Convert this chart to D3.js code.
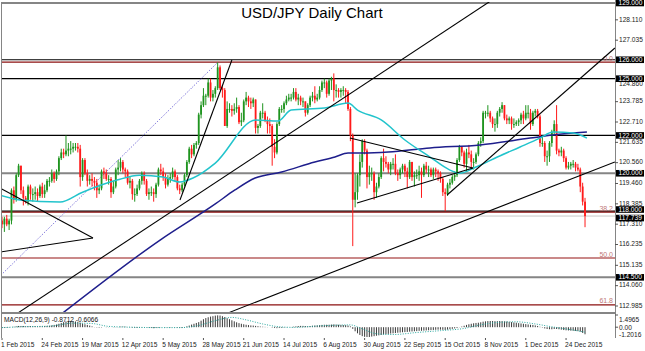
<!DOCTYPE html>
<html>
<head>
<meta charset="utf-8">
<script src="https://cdn.jsdelivr.net/npm/d3@7"></script>
<style>
body { margin: 0; background: #fff; }
svg { display: block; }
text { font-family: "Liberation Sans", Arial, sans-serif; }
</style>
</head>
<body>
<svg id="chart" width="645" height="351"></svg>
<script>
// daily candles, one row of 17 bars per date label
var opens = [
  117.5,117.3,117.6,117.3,117.5,119.1,118.6,119.9,120.4,119.1,118.7,118.5,119.3,118.9,118.9,119.0,118.8,
  119.3,118.9,119.1,119.6,119.6,120.0,119.7,120.1,120.8,121.1,121.0,121.2,121.3,121.3,121.4,121.4,121.3,
  119.8,120.7,120.0,119.6,119.7,119.6,119.5,119.1,119.2,120.1,120.0,119.7,119.7,119.0,119.3,120.2,120.3,
  120.6,120.2,120.1,119.5,119.6,118.9,118.9,119.2,119.6,120.0,119.6,118.9,119.0,119.0,118.9,119.4,120.2,
  120.1,119.8,119.4,119.7,119.8,120.1,119.8,119.2,119.1,119.4,119.9,120.6,121.3,121.0,121.5,121.6,123.1,
  123.6,124.1,124.1,124.8,124.0,124.2,124.5,125.6,124.5,124.4,122.5,123.4,123.4,123.3,123.4,123.5,122.7,
  122.8,123.8,124.0,123.8,123.7,123.9,122.4,122.5,123.2,123.2,122.8,122.6,122.5,121.4,121.1,122.6,123.4,
  123.4,123.7,123.9,124.0,124.0,124.3,123.9,124.0,123.8,123.8,123.2,123.6,124.0,124.1,123.9,124.0,124.4,
  124.8,124.8,124.2,124.9,125.0,124.4,124.4,124.3,124.4,124.4,124.3,123.4,122.0,118.6,119.0,119.9,120.6,
  121.7,121.2,119.8,120.0,120.0,119.0,119.3,119.8,120.8,120.6,120.5,120.2,120.5,120.5,120.0,119.9,120.2,
  120.4,120.1,119.8,120.6,119.8,119.9,119.9,120.1,119.9,120.4,120.2,120.2,119.9,120.2,120.1,120.0,119.7,
  119.0,118.9,119.4,119.5,119.8,119.9,120.7,121.4,121.1,120.5,121.1,121.0,120.6,120.6,121.0,121.6,121.7,
  123.2,123.2,123.2,122.9,122.6,122.6,123.2,123.4,123.6,122.9,122.8,122.9,122.6,122.6,122.7,122.8,123.1,
  122.9,123.2,123.2,122.6,123.2,123.3,123.0,121.6,121.6,120.9,120.9,121.6,122.2,122.6,121.2,121.1,121.2,
  120.8,120.3,120.4,120.5,120.5,120.3,120.2,119.3,118.5
];
var highs = [
  117.7,117.7,117.8,117.6,119.2,119.3,120.0,120.5,120.4,119.3,118.8,119.4,119.4,119.2,119.3,119.2,119.4,
  119.5,119.4,119.7,119.8,120.2,120.1,120.2,120.9,121.3,121.3,122.0,121.6,121.7,121.6,121.6,121.6,121.5,
  120.8,120.8,120.2,119.9,120.0,119.8,119.7,119.4,120.2,120.3,120.2,119.9,119.8,119.6,120.3,120.7,120.8,
  120.7,120.3,120.2,119.8,119.7,119.2,119.4,119.7,120.1,120.1,119.7,119.2,119.3,119.2,119.5,120.3,120.5,
  120.3,120.0,119.9,120.0,120.3,120.2,119.9,119.4,119.5,120.0,120.7,121.4,121.5,121.6,121.7,123.2,123.8,
  124.5,124.2,125.0,125.0,124.4,124.6,125.86,125.7,124.6,124.5,123.8,123.7,123.6,123.7,124.0,123.6,123.2,
  123.9,124.3,124.1,124.0,124.0,123.9,122.6,123.3,123.7,123.3,123.0,122.9,122.6,121.8,122.7,123.5,123.6,
  123.8,124.1,124.2,124.2,124.5,124.5,124.2,124.1,124.0,123.8,123.7,124.1,124.3,124.6,124.2,124.6,124.9,
  125.0,124.9,125.0,125.1,125.28,124.7,124.5,124.5,124.6,124.5,124.4,123.5,122.1,120.0,120.0,121.0,121.8,
  121.8,121.3,120.4,120.3,120.1,119.5,120.0,120.9,121.3,120.9,120.6,120.6,120.8,121.0,120.2,120.3,120.5,
  120.5,120.3,120.7,120.6,120.1,120.2,120.4,120.3,120.5,120.6,120.4,120.3,120.3,120.3,120.2,120.1,119.8,
  119.2,119.5,119.7,119.9,120.1,120.8,121.5,121.4,121.2,121.3,121.5,121.2,120.8,121.1,121.7,121.9,123.3,
  123.3,123.6,123.3,123.0,122.9,123.3,123.5,123.76,123.6,123.1,123.0,123.0,122.9,122.8,122.9,123.2,123.3,
  123.6,123.6,123.4,123.3,123.4,123.4,123.1,122.0,121.7,121.2,121.7,122.3,122.8,123.6,121.3,121.4,121.3,
  120.9,120.6,120.6,120.7,120.6,120.5,120.3,119.5,118.7
];
var lows = [
  117.1,116.9,117.2,117.0,117.3,118.4,118.5,119.8,118.9,118.3,118.4,118.3,118.6,118.5,118.6,118.5,118.7,
  118.7,118.7,119.0,119.3,119.5,119.5,119.6,119.9,120.7,120.8,120.9,120.9,121.0,121.1,121.2,121.1,119.3,
  119.6,119.9,119.3,119.4,119.3,119.1,118.7,118.9,119.1,119.7,119.6,119.4,118.7,118.9,119.2,119.9,120.1,
  120.0,119.8,119.4,119.2,118.6,118.5,118.8,119.1,119.4,119.4,118.8,118.6,118.8,118.5,118.7,119.3,119.9,
  119.6,119.2,119.3,119.5,119.7,119.6,119.1,118.9,119.0,119.3,119.8,120.5,120.8,120.9,121.3,121.5,122.9,
  123.5,123.6,124.0,123.8,123.8,124.0,124.4,124.4,124.0,122.5,122.4,123.2,123.0,123.1,123.2,122.6,122.5,
  122.7,123.6,123.5,123.4,123.5,122.1,122.1,122.4,122.9,122.7,122.1,122.1,120.4,120.8,121.0,122.5,123.2,
  123.2,123.6,123.8,123.8,123.9,123.8,123.6,123.6,123.5,123.0,123.1,123.5,123.8,123.7,123.8,123.9,124.3,
  124.5,124.0,124.1,124.4,123.8,124.0,124.0,124.0,124.1,123.7,123.3,121.7,116.15,118.2,118.6,119.3,120.3,
  121.0,119.2,119.4,119.6,118.6,118.7,119.2,119.7,120.1,120.3,120.0,119.9,120.2,119.9,119.6,119.7,120.0,
  119.8,119.2,119.7,119.6,119.3,119.7,119.6,118.7,119.8,120.0,119.8,119.8,119.7,119.8,119.6,119.5,118.8,
  118.0,118.8,119.2,119.4,119.6,119.8,120.6,120.9,120.3,120.1,120.8,120.3,120.2,120.5,120.9,121.4,121.6,
  122.9,123.0,122.7,122.4,122.2,122.4,123.0,123.2,122.8,122.6,122.6,122.3,122.4,122.5,122.5,122.6,122.6,
  122.8,122.9,122.3,122.5,123.0,122.9,121.4,121.4,120.6,120.4,120.6,121.4,122.0,121.0,120.9,120.9,120.6,
  120.2,120.2,120.2,120.3,120.1,120.1,119.0,118.3,117.15
];
var closes = [
  117.3,117.6,117.3,117.5,119.1,118.6,119.9,120.4,119.1,118.7,118.5,119.3,118.9,118.9,119.0,118.8,119.3,
  118.9,119.1,119.6,119.6,120.0,119.7,120.1,120.8,121.1,121.0,121.2,121.3,121.3,121.4,121.4,121.3,119.8,
  120.7,120.0,119.6,119.7,119.6,119.5,119.1,119.2,120.1,120.0,119.7,119.7,119.0,119.3,120.2,120.3,120.6,
  120.2,120.1,119.5,119.6,118.9,118.9,119.2,119.6,120.0,119.6,118.9,119.0,119.0,118.9,119.4,120.2,120.1,
  119.8,119.4,119.7,119.8,120.1,119.8,119.2,119.1,119.4,119.9,120.6,121.3,121.0,121.5,121.6,123.1,123.6,
  124.1,124.1,124.8,124.0,124.2,124.5,125.6,124.5,124.4,122.5,123.4,123.4,123.3,123.4,123.5,122.7,122.8,
  123.8,124.0,123.8,123.7,123.9,122.4,122.5,123.2,123.2,122.8,122.6,122.5,121.4,121.1,122.6,123.4,123.4,
  123.7,123.9,124.0,124.0,124.3,123.9,124.0,123.8,123.8,123.2,123.6,124.0,124.1,123.9,124.0,124.4,124.8,
  124.8,124.2,124.9,125.0,124.4,124.4,124.3,124.4,124.4,124.3,123.4,122.0,118.6,119.0,119.9,120.6,121.7,
  121.2,119.8,120.0,120.0,119.0,119.3,119.8,120.8,120.6,120.5,120.2,120.5,120.5,120.0,119.9,120.2,120.4,
  120.1,119.8,120.6,119.8,119.9,119.9,120.1,119.9,120.4,120.2,120.2,119.9,120.2,120.1,120.0,119.7,119.0,
  118.9,119.4,119.5,119.8,119.9,120.7,121.4,121.1,120.5,121.1,121.0,120.6,120.6,121.0,121.6,121.7,123.2,
  123.2,123.2,122.9,122.6,122.6,123.2,123.4,123.6,122.9,122.8,122.9,122.6,122.6,122.7,122.8,123.1,122.9,
  123.2,123.2,122.6,123.2,123.3,123.0,121.6,121.6,120.9,120.9,121.6,122.2,122.6,121.2,121.1,121.2,120.8,
  120.3,120.4,120.5,120.5,120.3,120.2,119.3,118.5,117.74
];

// MACD(12,26,9) main line, drawn as histogram
var macdMain = [
  -0.1,-0.1,-0.05,-0.05,0.0,0.05,0.1,0.15,0.15,0.15,0.12,0.12,0.14,0.13,0.13,0.12,0.12,
  0.13,0.14,0.16,0.18,0.22,0.28,0.33,0.42,0.52,0.62,0.7,0.74,0.76,0.74,0.7,0.66,0.55,
  0.45,0.36,0.28,0.2,0.1,0.02,-0.04,-0.06,-0.04,0.0,0.02,0.02,0.0,-0.02,-0.02,0.02,0.06,
  0.08,0.06,0.02,-0.02,-0.06,-0.1,-0.1,-0.08,-0.04,0.0,-0.02,-0.06,-0.1,-0.12,-0.1,-0.06,-0.02,
  0.0,-0.02,-0.04,-0.04,-0.02,-0.02,-0.06,-0.1,-0.1,-0.08,0.1,0.2,0.32,0.42,0.52,0.62,0.8,
  0.98,1.12,1.22,1.3,1.35,1.42,1.45,1.43,1.35,1.25,1.1,0.98,0.85,0.72,0.6,0.5,0.42,
  0.36,0.3,0.26,0.22,0.2,0.16,0.12,0.08,0.06,0.04,0.02,0.0,-0.05,-0.1,-0.12,-0.1,-0.08,
  -0.05,-0.02,0.0,0.02,0.06,0.1,0.14,0.16,0.16,0.14,0.12,0.14,0.18,0.2,0.22,0.25,0.28,
  0.3,0.3,0.3,0.32,0.34,0.32,0.3,0.28,0.26,0.25,0.2,0.1,-0.2,-0.5,-0.75,-0.95,-1.1,
  -1.18,-1.2,-1.2,-1.15,-1.1,-1.05,-1.0,-0.95,-0.9,-0.86,-0.82,-0.78,-0.75,-0.72,-0.68,-0.65,-0.62,
  -0.6,-0.58,-0.55,-0.52,-0.5,-0.48,-0.45,-0.44,-0.42,-0.4,-0.38,-0.36,-0.34,-0.32,-0.3,-0.3,-0.32,
  -0.34,-0.3,-0.25,-0.2,-0.15,-0.1,-0.02,0.08,0.18,0.28,0.36,0.42,0.48,0.52,0.55,0.6,0.68,
  0.72,0.75,0.76,0.76,0.74,0.74,0.76,0.75,0.72,0.7,0.66,0.62,0.58,0.55,0.5,0.46,0.42,
  0.38,0.34,0.3,0.28,0.22,0.15,0.05,-0.05,-0.15,-0.22,-0.25,-0.25,-0.22,-0.22,-0.25,-0.3,-0.35,
  -0.38,-0.4,-0.42,-0.44,-0.45,-0.48,-0.55,-0.7,-0.87
];
// signal line read at a few bars
var signalBars = [0,8,20,30,38,45,55,65,75,82,90,97,103,110,117,123,135,147,152,158,165,175,185,195,202,210,217,225,233,240,246];
var signalVals = [-0.05,0.05,0.13,0.5,0.45,0.1,0.0,-0.05,-0.05,0.15,0.8,1.2,0.9,0.4,0.05,-0.02,0.18,0.28,-0.2,-0.8,-0.9,-0.65,-0.42,-0.15,0.3,0.6,0.66,0.4,0.0,-0.3,-0.61];

// moving averages
var maFastBars = [-1,7.6,24.5,34,48.5,58,68,75,80.6,90,107,116.5,122,136,146,150,160,170,180.6,189,193,200,209,218.6,227,232.5,241,246.8];
var maFastVals = [118.85,118.59,118.48,119.0,119.64,119.9,119.8,119.54,119.75,120.54,122.82,122.76,123.34,123.45,123.71,123.34,122.82,121.76,120.86,120.17,120.0,120.33,120.86,121.39,121.86,122.18,122.13,121.86];
var maSlowBars = [25.7,66.7,90,98.3,106.8,118,132,140.5,146,152,163,180.6,201.7,222.8,232.5,246.8];
var maSlowVals = [112.62,116.47,118.38,119.12,119.75,120.07,120.6,120.86,121.07,121.07,121.12,121.34,121.5,121.86,122.02,122.18];

// hand-drawn trend lines: start/end bar and price
var trendStartBar   = [75.1, 6.75, 95.4, 187.8, 146.8, 149.8, -0.84, -0.84];
var trendStartPrice = [118.59, 112.62, 112.62, 118.85, 121.86, 118.43, 119.22, 115.84];
var trendEndBar     = [97.0, 206.8, 258.6, 258.6, 198.7, 198.7, 38.4, 38.4];
var trendEndPrice   = [125.99, 129.16, 120.6, 126.62, 120.28, 120.28, 116.58, 116.58];

// fibonacci retracement (Oct 2014 low to Jun 2015 high)
var fibBars = [-77, 91];
var fibPrices = [105.2, 125.86];
var fibLabels = ["0.0", "38.2", "50.0", "61.8"];
var fibLevels = [125.88, 117.95, 115.52, 113.04];

var levelPrices = [129, 126, 125, 122, 120, 118, 114.5];
var levelKinds  = ["grey", "black", "black", "black", "grey", "black", "grey"];
var bidPrice = 117.739;

var tickPrices = ["128.110","127.035","124.860","123.785","122.710","121.635","120.560","119.460","118.385","117.310","116.235","115.135","114.060","112.985"];
var boxPrices = ["129.000","126.000","125.000","122.000","120.000","118.000","117.739","114.500"];
var macdTicks = ["1.4965", "0.00", "-1.2016"];
var dateBars = [0,17,34,51,68,85,102,119,136,153,170,187,204,221,238];
var dateLabels = ["1 Feb 2015","24 Feb 2015","19 Mar 2015","12 Apr 2015","5 May 2015","28 May 2015","21 Jun 2015","14 Jul 2015","6 Aug 2015","30 Aug 2015","22 Sep 2015","15 Oct 2015","8 Nov 2015","1 Dec 2015","24 Dec 2015"];

var svg = d3.select("#chart");
var plotL = 2, plotR = 615, plotT = 2, priceB = 313, macdT = 315, macdB = 337;

var x = d3.scaleLinear().domain([0, 258.65]).range([2, 615]);
var y = d3.scaleLinear().domain([112.985, 129]).range([306, 3]);
var ym = d3.scaleLinear().domain([-1.2016, 1.4965]).range([macdB, macdT]);

var defs = svg.append("defs");
defs.append("clipPath").attr("id", "clipPrice").append("rect")
    .attr("x", plotL).attr("y", plotT).attr("width", plotR - plotL).attr("height", priceB - plotT);
defs.append("clipPath").attr("id", "clipMacd").append("rect")
    .attr("x", plotL).attr("y", priceB + 1).attr("width", plotR - plotL).attr("height", macdB - priceB + 1);

var gPrice = svg.append("g").attr("clip-path", "url(#clipPrice)");

// horizontal levels
gPrice.selectAll("line.level").data(levelPrices).join("line")
    .attr("x1", plotL).attr("x2", plotR)
    .attr("y1", d => y(d)).attr("y2", d => y(d))
    .attr("stroke", (d, i) => levelKinds[i] == "grey" ? "#858585" : "#000")
    .attr("stroke-width", (d, i) => levelKinds[i] == "grey" ? 2 : 1.2);

gPrice.append("line")
    .attr("x1", plotL).attr("x2", plotR)
    .attr("y1", y(bidPrice)).attr("y2", y(bidPrice))
    .attr("stroke", "#c8c8c8").attr("stroke-width", 1);

// fib levels
gPrice.selectAll("line.fib").data(fibLevels).join("line")
    .attr("x1", plotL).attr("x2", plotR)
    .attr("y1", d => y(d)).attr("y2", d => y(d))
    .attr("stroke", (d, i) => i == 2 ? "#b86262" : "#8b1010")
    .attr("stroke-width", (d, i) => i == 2 ? 1.6 : 1.3);

gPrice.selectAll("text.fib").data(fibLevels).join("text")
    .attr("x", 613).attr("y", d => y(d) - 1.5)
    .attr("text-anchor", "end")
    .attr("font-size", 7).attr("fill", "#c07878")
    .text((d, i) => fibLabels[i]);

gPrice.append("line")
    .attr("x1", x(fibBars[0])).attr("y1", y(fibPrices[0]))
    .attr("x2", x(fibBars[1])).attr("y2", y(fibPrices[1]))
    .attr("stroke", "#5a4fd0").attr("stroke-width", 1)
    .attr("stroke-dasharray", "1,1.6");

// candles
var idx = d3.range(closes.length);
var upCol = "#1f941f", downCol = "#ff1a1a";
gPrice.selectAll("line.wick").data(idx).join("line")
    .attr("x1", i => x(i)).attr("x2", i => x(i))
    .attr("y1", i => y(highs[i])).attr("y2", i => y(lows[i]))
    .attr("stroke", i => closes[i] >= opens[i] ? upCol : downCol)
    .attr("stroke-width", 1);
gPrice.selectAll("rect.body").data(idx).join("rect")
    .attr("x", i => x(i) - 0.9).attr("width", 1.8)
    .attr("y", i => y(Math.max(opens[i], closes[i])))
    .attr("height", i => Math.max(1, Math.abs(y(opens[i]) - y(closes[i]))))
    .attr("fill", i => closes[i] >= opens[i] ? upCol : downCol);

// moving averages
var maLine = d3.line().curve(d3.curveMonotoneX);
gPrice.append("path")
    .attr("d", maLine(maSlowBars.map((b, i) => [x(b), y(maSlowVals[i])])))
    .attr("fill", "none").attr("stroke", "#1e1e8c").attr("stroke-width", 1.5);
gPrice.append("path")
    .attr("d", maLine(maFastBars.map((b, i) => [x(b), y(maFastVals[i])])))
    .attr("fill", "none").attr("stroke", "#22c4cc").attr("stroke-width", 1.5);

// trend lines
gPrice.selectAll("line.trend").data(trendStartBar).join("line")
    .attr("x1", d => x(d)).attr("y1", (d, i) => y(trendStartPrice[i]))
    .attr("x2", (d, i) => x(trendEndBar[i])).attr("y2", (d, i) => y(trendEndPrice[i]))
    .attr("stroke", "#000").attr("stroke-width", 1.1);

// MACD window
var gMacd = svg.append("g").attr("clip-path", "url(#clipMacd)");
gMacd.selectAll("line.hist").data(macdMain).join("line")
    .attr("x1", (d, i) => x(i)).attr("x2", (d, i) => x(i))
    .attr("y1", ym(0)).attr("y2", d => ym(d))
    .attr("stroke", "#3a3a3a").attr("stroke-width", 1);
gMacd.append("path")
    .attr("d", maLine(signalBars.map((b, i) => [x(b), ym(signalVals[i])])))
    .attr("fill", "none").attr("stroke", "#2aa8a0").attr("stroke-width", 1)
    .attr("stroke-dasharray", "1,1.5");

svg.append("text")
    .attr("x", 4).attr("y", 321.5)
    .attr("font-size", 6.6).attr("fill", "#111")
    .text("MACD(12,26,9) -0.8712 -0.6066");

// frame
svg.append("line").attr("x1", 1.5).attr("x2", 1.5).attr("y1", plotT).attr("y2", 338)
    .attr("stroke", "#858585").attr("stroke-width", 1);
svg.append("line").attr("x1", plotR + 0.5).attr("x2", plotR + 0.5).attr("y1", 0).attr("y2", 338)
    .attr("stroke", "#858585").attr("stroke-width", 1);
svg.append("line").attr("x1", plotL).attr("x2", plotR).attr("y1", priceB).attr("y2", priceB)
    .attr("stroke", "#858585").attr("stroke-width", 2);

// price axis; a few labels are nudged so they do not sit under a box
var labelNudge = {"124.860": 3.2, "118.000": -1.6, "117.739": 2};
var axis = svg.append("g");
axis.selectAll("line.tick").data(tickPrices).join("line")
    .attr("x1", plotR).attr("x2", plotR + 3)
    .attr("y1", d => y(+d)).attr("y2", d => y(+d))
    .attr("stroke", "#555");
axis.selectAll("text.tick").data(tickPrices).join("text")
    .attr("x", 619).attr("y", d => y(+d) + (labelNudge[d] || 0))
    .attr("dominant-baseline", "middle")
    .attr("font-size", 6.6).attr("fill", "#222")
    .text(d => d);

var boxes = axis.selectAll("g.box").data(boxPrices).join("g")
    .attr("transform", d => "translate(616," + (y(+d) + (labelNudge[d] || 0)) + ")");
boxes.append("rect").attr("x", 0).attr("y", -3.3).attr("width", 28).attr("height", 6.6).attr("fill", "#000");
boxes.append("text").attr("x", 2.5).attr("y", 0.3)
    .attr("dominant-baseline", "middle")
    .attr("font-size", 6.6).attr("fill", "#fff")
    .text(d => d);

axis.selectAll("text.macd").data(macdTicks).join("text")
    .attr("x", 619).attr("y", (d, i) => [320, 328.5, 335.5][i])
    .attr("dominant-baseline", "middle")
    .attr("font-size", 6.6).attr("fill", "#222")
    .text(d => d);
axis.selectAll("line.macd").data([1.4965, 0]).join("line")
    .attr("x1", plotR).attr("x2", plotR + 3)
    .attr("y1", d => ym(d)).attr("y2", d => ym(d))
    .attr("stroke", "#555");

// date axis
svg.selectAll("line.date").data(dateBars).join("line")
    .attr("x1", d => x(d)).attr("x2", d => x(d))
    .attr("y1", 338).attr("y2", 340)
    .attr("stroke", "#555");
svg.selectAll("text.date").data(dateBars).join("text")
    .attr("x", d => x(d) - 1).attr("y", 347)
    .attr("font-size", 6.6).attr("fill", "#222")
    .text((d, i) => dateLabels[i]);

svg.append("text")
    .attr("x", 312).attr("y", 17.5)
    .attr("text-anchor", "middle")
    .attr("font-size", 15).attr("fill", "#000")
    .text("USD/JPY Daily Chart");
</script>
</body>
</html>
